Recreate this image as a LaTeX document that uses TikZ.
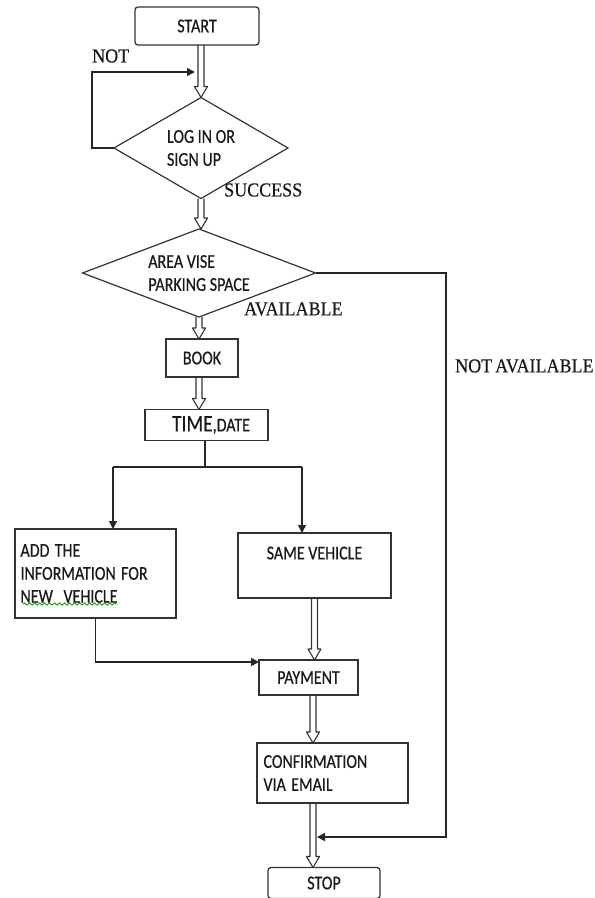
\documentclass[tikz,border=0pt]{standalone}
\usepackage{fontspec}
\usepackage{graphicx}
\setmainfont{Liberation Serif}
\newfontfamily\boxfont[FakeBold=0.6]{Carlito}
\newfontfamily\lblfont[FakeBold=0.4]{Liberation Serif}
\usetikzlibrary{shapes.geometric,arrows.meta,decorations.pathmorphing,calc}
\newcommand{\vs}[1]{\scalebox{1}[1.22]{#1}}
\newcommand{\vt}[1]{\scalebox{1}[1.1]{#1}}
\tikzset{
  box/.style={draw=black!80, line width=1.3pt, inner sep=0pt, outer sep=0pt,
    font=\boxfont\fontsize{16}{23}\selectfont, text=black!90},
  rbox/.style={box, rounded corners=3pt},
  dia/.style={box, diamond, line width=1.2pt, inner xsep=-40pt, inner ysep=-20pt},
  lbl/.style={font=\lblfont\fontsize{18}{20}\selectfont, text=black!90, inner sep=0pt},
  dbl/.style={draw=black!80, line width=1.1pt, line join=round},
  arr/.style={draw=black!85, line width=1.4pt, -{Triangle[length=8pt,width=8pt]}},
  ln/.style={draw=black!85, line width=1.4pt}
}
% hollow block arrow pointing down, from #1 to #2 (x taken from #1)
\newcommand{\darrow}[2]{%
  \path let \p1=(#1), \p2=(#2) in
    [dbl] (\x1-3pt,\y1) -- (\x1-3pt,\y2+11pt) -- (\x1-6.5pt,\y2+11pt) -- (\x1,\y2)
      -- (\x1+6.5pt,\y2+11pt) -- (\x1+3pt,\y2+11pt) -- (\x1+3pt,\y1);}
\begin{document}
\begin{tikzpicture}[x=1pt,y=-1pt]
\useasboundingbox (0,0) rectangle (595,898);
% nodes
\node[rbox, minimum width=124pt, minimum height=38pt] (start) at (197,26) {\vs{START}};
\node[dia, minimum width=174pt, minimum height=101pt, align=left] (login) at (201,148) {\vs{LOG IN OR}\\\vs{SIGN UP}};
\node[dia, minimum width=233pt, minimum height=88pt, align=left] (area) at (199,273) {\vs{AREA VISE}\\\vs{PARKING SPACE}};
\node[box, minimum width=72pt, minimum height=38pt] (book) at (202,358) {\vs{BOOK}\hspace{8pt}};
\node[box, minimum width=123pt, minimum height=31pt, anchor=west] (time) at (145,425)
   {\hspace{9pt}\vs{\fontsize{19.5}{23}\selectfont TIME}\vs{,DATE}\hspace{22pt}};
\node[box, minimum width=161pt, minimum height=89pt, text width=150pt, align=left] (add) at (95.5,573.5)
   {\vs{ADD THE}\\\vs{INFORMATION FOR}\\\vs{NEW\ \ VEHICLE}};
\node[box, minimum width=153pt, minimum height=65pt, align=center] (same) at (314.5,565.5)
   {\vs{SAME VEHICLE}\\[2pt]\mbox{}};
\node[box, minimum width=99pt, minimum height=35pt] (pay) at (308.5,677.5) {\vs{PAYMENT}};
\node[box, minimum width=151pt, minimum height=60pt, text width=138pt, align=left] (conf) at (332.5,773)
   {\vs{CONFIRMATION}\\\vs{VIA EMAIL}};
\node[rbox, minimum width=112pt, minimum height=31pt] (stop) at (324,883) {\vs{STOP}};
% labels
\node[lbl, anchor=west] (lnot) at (92,56) {\vt{NOT}};
\node[lbl, anchor=west] (lsucc) at (224,190) {\vt{SUCCESS}};
\node[lbl, anchor=west] (lavail) at (244,309) {\vt{AVAILABLE}};
\node[lbl, anchor=west] (lna) at (455,366) {\vt{NOT\hspace{3pt}AVAILABLE}};
% spell-check underline
\draw[green!60!black, line width=0.8pt, decorate, decoration={snake, amplitude=1.2pt, segment length=5pt}]
  (23,604) -- (117,604);
% coordinates
\coordinate (loopend) at (195,72);
\coordinate (naend) at (317,837);
\coordinate (split) at (205,467);
\coordinate (sl) at (113,467);
\coordinate (sr) at (302,467);
% connectors
\darrow{start.south -| login.north}{login.north}
\draw[arr] (login.west) -- ++(-22,0) |- (loopend);
\darrow{login.south}{area.north}
\draw[arr] (area.east) -| (446,300) |- (naend);
\darrow{area.south}{book.north}
\darrow{area.south |- book.south}{time.north}
\draw[ln] (time.south -| split) -- (split);
\draw[ln] (sl) -- (sr);
\draw[arr] (sl) -- (sl |- add.north);
\draw[arr] (sr) -- (sr |- same.north);
\darrow{same.south}{pay.north}
\draw[arr] (add.south) |- ([yshift=15.5pt]pay.west);
\darrow{pay.south -| 313,0}{conf.north}
\darrow{conf.south -| 313,0}{stop.north}
\end{tikzpicture}
\end{document}
